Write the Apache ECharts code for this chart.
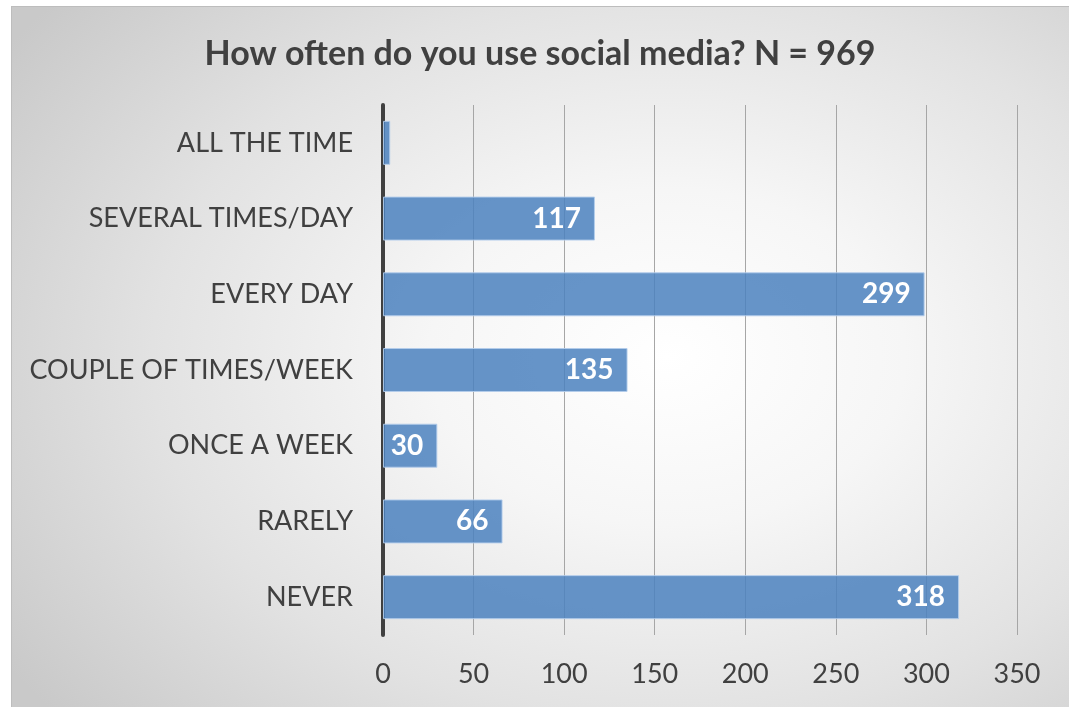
<!DOCTYPE html>
<html>
<head>
<meta charset="utf-8">
<script src="https://cdn.jsdelivr.net/npm/echarts@6/dist/echarts.min.js"></script>
<style>
    html, body { margin: 0; padding: 0; background: #fff; }
    #bg {
        position: absolute; left: 11px; top: 6px; width: 1058px; height: 701px;
        box-sizing: border-box; border-left: 1px solid #bdbdbd; border-top: 1px solid #bdbdbd;
        background: radial-gradient(ellipse 75% 80% at 62% 50%, #ffffff 0%, #f6f6f6 30%, #e2e2e2 65%, #c9c9c9 100%);
    }
    #chart { position: absolute; left: 11px; top: 6px; width: 1058px; height: 701px; }
</style>
</head>
<body>
<div id="bg"></div>
<div id="chart"></div>
<script>
    // 数据
    var categories = ['ALL THE TIME', 'SEVERAL TIMES/DAY', 'EVERY DAY', 'COUPLE OF TIMES/WEEK', 'ONCE A WEEK', 'RARELY', 'NEVER'];
    var counts = [4, 117, 299, 135, 30, 66, 318];
    var xTicks = [0, 50, 100, 150, 200, 250, 300, 350];

    var font = 'Lato';
    var myChart = echarts.init(document.getElementById('chart'));
    var option = {
        backgroundColor: 'transparent',
        title: {
            text: 'How often do you use social media? N = 969',
            left: 'center',
            top: 26,
            textStyle: {
                color: '#404040',
                fontSize: 34,
                fontWeight: 'bold',
                fontFamily: font
            }
        },
        grid: {
            left: 372,
            right: 52,
            top: 99,
            bottom: 72,
            containLabel: false
        },
        xAxis: {
            type: 'value',
            min: xTicks[0],
            max: xTicks[xTicks.length - 1],
            interval: 50,
            axisLine: {show: false},
            axisTick: {show: false},
            splitLine: {
                lineStyle: {color: '#a6a6a6', width: 1}
            },
            axisLabel: {
                color: '#404040',
                fontSize: 27,
                fontFamily: font,
                margin: 26
            }
        },
        yAxis: {
            type: 'category',
            inverse: true,
            data: categories,
            axisTick: {show: false},
            axisLine: {
                lineStyle: {color: '#404040', width: 4}
            },
            axisLabel: {
                color: '#404040',
                fontSize: 27,
                fontFamily: font,
                margin: 30
            }
        },
        series: [
            {
                type: 'bar',
                barWidth: 44,
                data: counts.map(function (v, i) {
                    return i === 0 ? {value: v, label: {show: false}} : v;
                }),
                itemStyle: {
                    color: 'rgba(75,129,190,0.85)',
                    borderColor: 'rgba(180,205,235,0.9)',
                    borderWidth: 1
                },
                label: {
                    show: true,
                    position: 'insideRight',
                    distance: 14,
                    color: '#ffffff',
                    fontSize: 28,
                    fontWeight: 'bold',
                    fontFamily: font
                }
            }
        ]
    };
    myChart.setOption(option);
</script>
</body>
</html>
